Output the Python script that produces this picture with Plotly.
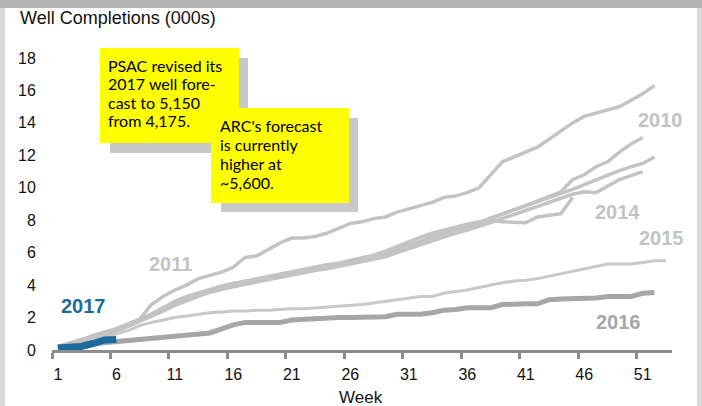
import plotly.graph_objects as go

weeks_all = list(range(1, 54))
tick_weeks = [1, 6, 11, 16, 21, 26, 31, 36, 41, 46, 51]
tick_labels = [str(w) for w in tick_weeks]
y_ticks = [0, 2, 4, 6, 8, 10, 12, 14, 16, 18]

y2011 = [0.2, 0.4, 0.6, 0.9, 1.1, 1.3, 1.6, 1.9, 2.8, 3.3, 3.7, 4.0, 4.4, 4.6, 4.8, 5.1,
         5.7, 5.8, 6.2, 6.6, 6.9, 6.9, 7.0, 7.2, 7.5, 7.8, 7.9, 8.1, 8.2, 8.5, 8.7, 8.9,
         9.1, 9.4, 9.5, 9.7, 10.0, 10.8, 11.6, 11.9, 12.2, 12.5, 13.0, 13.5, 14.0, 14.4,
         14.6, 14.8, 15.0, 15.4, 15.8, 16.3]
y2010 = [0.2, 0.4, 0.6, 0.85, 1.05, 1.3, 1.55, 1.85, 2.2, 2.6, 3.0, 3.3, 3.5, 3.75, 3.95,
         4.1, 4.2, 4.35, 4.5, 4.65, 4.8, 4.95, 5.05, 5.2, 5.3, 5.45, 5.6, 5.75, 5.95, 6.2,
         6.45, 6.7, 6.95, 7.2, 7.4, 7.6, 7.8, 8.1, 8.35, 8.6, 8.9, 9.2, 9.45, 9.75, 10.5,
         10.8, 11.3, 11.6, 12.2, 12.7, 13.1]
y2012 = [0.2, 0.35, 0.55, 0.8, 1.0, 1.25, 1.5, 1.8, 2.1, 2.5, 2.85, 3.15, 3.4, 3.65, 3.85,
         4.0, 4.15, 4.3, 4.45, 4.6, 4.75, 4.85, 5.0, 5.1, 5.25, 5.35, 5.5, 5.65, 5.85, 6.15,
         6.4, 6.7, 7.0, 7.25, 7.45, 7.65, 7.85, 8.15, 8.4, 8.65, 8.9, 9.15, 9.35, 9.6, 9.9,
         10.2, 10.5, 10.8, 11.05, 11.3, 11.5, 11.9]
y2013 = [0.2, 0.35, 0.5, 0.75, 0.95, 1.2, 1.45, 1.75, 2.05, 2.4, 2.75, 3.05, 3.3, 3.55, 3.75,
         3.9, 4.05, 4.2, 4.35, 4.5, 4.65, 4.75, 4.9, 5.0, 5.15, 5.25, 5.4, 5.55, 5.75, 6.0,
         6.25, 6.5, 6.75, 7.0, 7.2, 7.4, 7.6, 7.85, 8.1, 8.35, 8.6, 8.85, 9.05, 9.3, 9.6,
         9.75, 9.7, 10.1, 10.5, 10.75, 11.0]
y2014 = [0.2, 0.4, 0.6, 0.85, 1.1, 1.3, 1.6, 1.9, 2.2, 2.6, 2.95, 3.25, 3.5, 3.75, 3.95,
         4.1, 4.25, 4.4, 4.55, 4.7, 4.85, 5.0, 5.1, 5.25, 5.35, 5.5, 5.65, 5.85, 6.1, 6.4,
         6.7, 6.95, 7.2, 7.4, 7.6, 7.75, 7.9, 8.0, 7.9, 7.9, 7.85, 8.2, 8.3, 8.4, 9.4]
y2015 = [0.2, 0.3, 0.45, 0.6, 0.8, 1.0, 1.2, 1.5, 1.7, 1.85, 2.0, 2.1, 2.2, 2.3, 2.35, 2.4,
         2.4, 2.45, 2.45, 2.5, 2.55, 2.55, 2.6, 2.65, 2.7, 2.75, 2.8, 2.9, 3.0, 3.1, 3.2, 3.3,
         3.3, 3.5, 3.6, 3.7, 3.85, 4.0, 4.15, 4.25, 4.3, 4.4, 4.55, 4.7, 4.85, 5.0, 5.15,
         5.3, 5.3, 5.3, 5.4, 5.5, 5.5]
y2016 = [0.15, 0.2, 0.3, 0.38, 0.45, 0.5, 0.6, 0.7, 0.75, 0.8, 0.85, 0.95, 1.0, 1.05, 1.3,
         1.55, 1.7, 1.7, 1.7, 1.7, 1.85, 1.9, 1.9, 1.95, 2.0, 2.0, 2.0, 2.0, 2.05, 2.2, 2.2,
         2.2, 2.3, 2.45, 2.5, 2.6, 2.6, 2.6, 2.8, 2.85, 2.85, 2.85, 3.1, 3.15, 3.15, 3.15,
         3.2, 3.3, 3.3, 3.3, 3.5, 3.55]
y2017 = [0.12, 0.13, 0.22, 0.4, 0.62, 0.65]

note1_lines = ["PSAC revised its", "2017 well fore-", "cast to 5,150", "from 4,175."]
note2_lines = ["ARC's forecast", "is currently", "higher at", "~5,600."]

light = "#c3c3c3"
fig = go.Figure()
for ys, col, w in [(y2015, "#c8c8c8", 3), (y2013, light, 3.5), (y2012, light, 3.5),
                   (y2014, light, 3.5), (y2010, light, 3.5), (y2011, light, 3.5),
                   (y2016, "#a6a6a6", 5), (y2017, "#1b6c9c", 7)]:
    fig.add_trace(go.Scatter(x=weeks_all[:len(ys)], y=ys, mode="lines",
                             line=dict(color=col, width=w), hoverinfo="skip", showlegend=False))

L, R, T, B = 52, 30, 58, 56
PW, PH = 702 - L - R, 406 - T - B


def px(x):
    return (x - L) / PW


def py(y):
    return (406 - B - y) / PH


shapes = [
    dict(type="rect", xref="paper", yref="paper", x0=px(0), x1=px(702), y0=py(0), y1=py(8),
         fillcolor="#b3b3b3", line_width=0, layer="above"),
    dict(type="rect", xref="paper", yref="paper", x0=px(0), x1=px(5), y0=py(8), y1=py(406),
         fillcolor="#dadada", line_width=0, layer="above"),
    dict(type="rect", xref="paper", yref="paper", x0=px(697), x1=px(702), y0=py(8), y1=py(406),
         fillcolor="#dadada", line_width=0, layer="above"),
    dict(type="rect", xref="paper", yref="paper", x0=px(110), x1=px(248), y0=py(58), y1=py(153),
         fillcolor="#c8c8c8", line_width=0, layer="above"),
    dict(type="rect", xref="paper", yref="paper", x0=px(100), x1=px(239), y0=py(48), y1=py(143),
         fillcolor="#ffff00", line_width=0, layer="above"),
    dict(type="rect", xref="paper", yref="paper", x0=px(221), x1=px(358), y0=py(118), y1=py(212),
         fillcolor="#c8c8c8", line_width=0, layer="above"),
    dict(type="rect", xref="paper", yref="paper", x0=px(211), x1=px(349), y0=py(108), y1=py(203),
         fillcolor="#ffff00", line_width=0, layer="above"),
]

note_font = dict(family="Comic Sans MS, Lato, sans-serif", size=16, color="#000000")
ann = [
    dict(text="Well Completions (000s)", xref="paper", yref="paper", x=px(18), y=py(18),
         xanchor="left", yanchor="middle", showarrow=False,
         font=dict(family="Arial, Liberation Sans", size=18, color="#111111")),
    dict(text="Week", xref="paper", yref="paper", x=px(361), y=py(397),
         xanchor="center", yanchor="middle", showarrow=False,
         font=dict(family="Arial, Liberation Sans", size=17, color="#111111")),
]
for i, t in enumerate(note1_lines):
    ann.append(dict(text=t, xref="paper", yref="paper", x=px(106), y=py(65 + 18.5 * i),
                    xanchor="left", yanchor="middle", align="left", showarrow=False,
                    font=note_font))
for i, t in enumerate(note2_lines):
    ann.append(dict(text=t, xref="paper", yref="paper", x=px(218), y=py(125 + 19 * i),
                    xanchor="left", yanchor="middle", align="left", showarrow=False,
                    font=note_font))

year_font = dict(family="Arial, Liberation Sans", size=20)
for txt, x, y, col in [("2010", 52.5, 14.2, "#c3c3c3"), ("2011", 10.6, 5.3, "#c3c3c3"),
                       ("2014", 48.8, 8.5, "#c3c3c3"), ("2015", 52.6, 6.9, "#c3c3c3"),
                       ("2016", 48.9, 1.75, "#a6a6a6"), ("2017", 3.2, 2.7, "#1b6c9c")]:
    ann.append(dict(text="<b>" + txt + "</b>", x=x, y=y, xref="x", yref="y", showarrow=False,
                    xanchor="center", yanchor="middle", font=dict(year_font, color=col)))

fig.update_layout(
    width=702, height=406, margin=dict(l=L, r=R, t=T, b=B),
    paper_bgcolor="white", plot_bgcolor="white", showlegend=False,
    shapes=shapes, annotations=ann,
    font=dict(family="Arial, Liberation Sans", color="#111111"),
    xaxis=dict(range=[0.5, 53.5], tickmode="array", tickvals=tick_weeks, ticktext=tick_labels,
               ticks="outside", ticklen=8, tickcolor="rgba(0,0,0,0)",
               showline=True, linecolor="#8c8c8c", linewidth=3,
               showgrid=False, zeroline=False, tickfont=dict(size=16),
               minor=dict(tickmode="array", tickvals=[0.5 + 5 * i for i in range(11)],
                          ticks="outside", ticklen=6, tickwidth=3, tickcolor="#8c8c8c",
                          showgrid=False)),
    yaxis=dict(range=[0, 18], tickmode="array", tickvals=y_ticks,
               ticktext=[str(v) for v in y_ticks], ticks="outside", ticklen=12,
               tickcolor="rgba(0,0,0,0)", showline=False, showgrid=False, zeroline=False,
               tickfont=dict(size=16)),
)

fig.write_html("out.html", config={"displayModeBar": False},
               post_script="document.body.style.margin='0';")
